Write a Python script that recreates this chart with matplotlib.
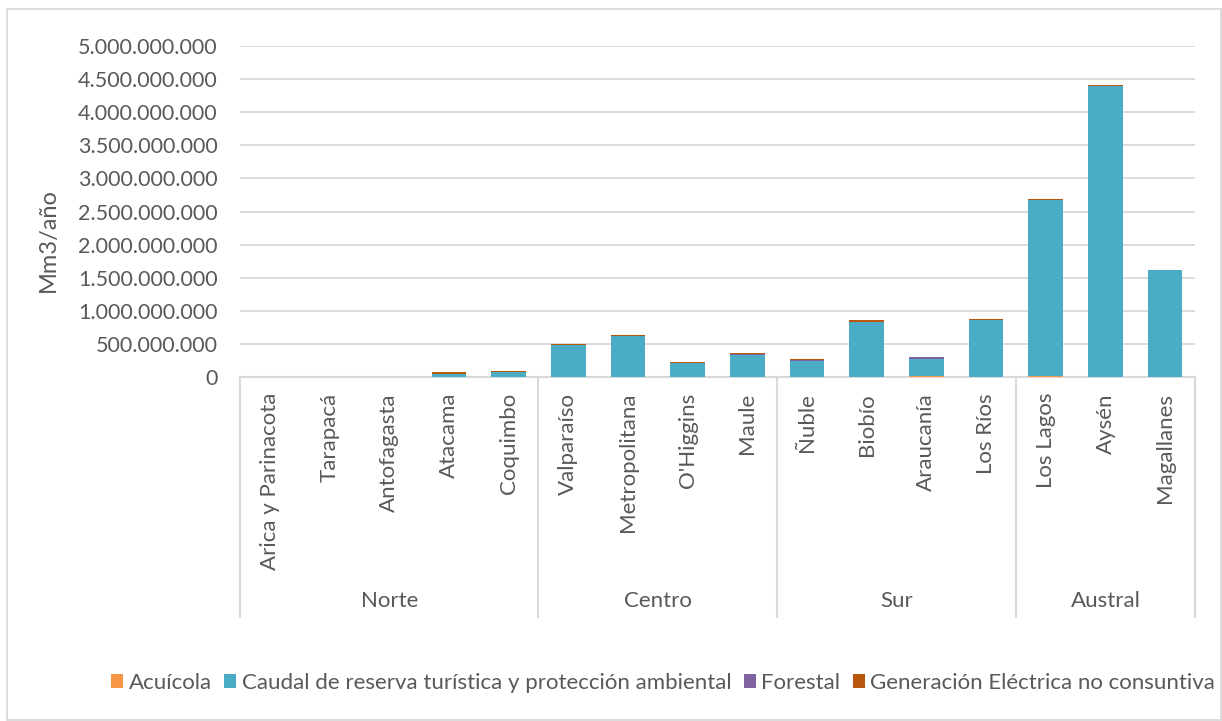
import matplotlib.pyplot as plt
from matplotlib.ticker import FuncFormatter
from matplotlib.patches import Rectangle
import numpy as np

plt.rcParams['font.family'] = ['Lato', 'DejaVu Sans']

regiones = ['Arica y Parinacota', 'Tarapacá', 'Antofagasta', 'Atacama', 'Coquimbo',
            'Valparaíso', 'Metropolitana', "O'Higgins", 'Maule',
            'Ñuble', 'Biobío', 'Araucanía', 'Los Ríos',
            'Los Lagos', 'Aysén', 'Magallanes']
zonas = ['Norte', 'Centro', 'Sur', 'Austral']
zona_n = [5, 4, 4, 3]

# Mm3/año por uso
acuicola = [0, 0, 0, 0, 0,
            0, 0, 0, 0,
            0, 0, 10e6, 0,
            20e6, 0, 0]
caudal = [0, 0, 0, 50e6, 75e6,
          480e6, 620e6, 205e6, 330e6,
          240e6, 830e6, 262e6, 855e6,
          2650e6, 4390e6, 1620e6]
forestal = [0, 0, 0, 0, 0,
            0, 0, 5e6, 20e6,
            12e6, 0, 25e6, 12e6,
            0, 0, 0]
generacion = [0, 0, 0, 20e6, 15e6,
              15e6, 12e6, 15e6, 15e6,
              18e6, 30e6, 12e6, 10e6,
              20e6, 25e6, 0]

series = [('Acuícola', acuicola, '#F79646'),
          ('Caudal de reserva turística y protección ambiental', caudal, '#4BACC6'),
          ('Forestal', forestal, '#8064A2'),
          ('Generación Eléctrica no consuntiva', generacion, '#B9570F')]

gris = '#595959'
linea = '#D9D9D9'

fig = plt.figure(figsize=(12.22, 7.21), dpi=100)
W, H = 1222, 721
ax = fig.add_axes([240 / W, 1 - 377 / H, 955 / W, 331 / H])

x = np.arange(len(regiones))
base = np.zeros(len(regiones))
for nombre, vals, color in series:
    vals = np.array(vals)
    ax.bar(x, vals, 0.58, bottom=base, color=color, label=nombre, zorder=3)
    base += vals

ax.set_xlim(-0.5, len(regiones) - 0.5)
ax.set_ylim(0, 5e9)
ax.set_yticks(np.arange(0, 5.01e9, 5e8))
ax.yaxis.set_major_formatter(FuncFormatter(lambda v, p: f'{int(v):,}'.replace(',', '.')))
ax.grid(axis='y', color=linea, lw=1.3, zorder=0)
ax.tick_params(axis='y', length=0, pad=16, labelsize=15.5, labelcolor=gris)
ax.set_xticks([])
for s in ax.spines.values():
    s.set_visible(False)
ax.set_ylabel('Mm3/año', fontsize=17, color=gris, va='center')
ax.yaxis.set_label_coords((48 - 240) / 955, (377 - 240) / 331)

# eje de categorías en dos niveles
fondo = -(617 - 377) / 331
trans = ax.get_xaxis_transform()
ax.plot([-0.5, len(regiones) - 0.5], [0, 0], color=linea, lw=1.5, transform=trans, clip_on=False)
cortes = np.concatenate([[0], np.cumsum(zona_n)]) - 0.5
for c in cortes:
    ax.plot([c, c], [0, fondo], color=linea, lw=1.5, transform=trans, clip_on=False)
for xi, r in zip(x, regiones):
    ax.text(xi, -16 / 331, r, rotation=90, ha='center', va='top', fontsize=16,
            color=gris, transform=trans)
for i, z in enumerate(zonas):
    ax.text((cortes[i] + cortes[i + 1]) / 2, -(601 - 377) / 331, z, ha='center',
            va='center', fontsize=16, color=gris, transform=trans)

fig.legend(loc='center', bbox_to_anchor=(663 / W, 1 - 683 / H), ncol=4, frameon=False,
           fontsize=16, labelcolor=gris, handlelength=0.55, handleheight=0.55,
           handletextpad=0.25, columnspacing=0.55)

# borde del gráfico
fig.patches.append(Rectangle((7 / W, 1 - 720 / H), 1214 / W, 711 / H, fill=False,
                             edgecolor=linea, lw=1.3, transform=fig.transFigure))

fig.savefig('out.png', dpi=100)
